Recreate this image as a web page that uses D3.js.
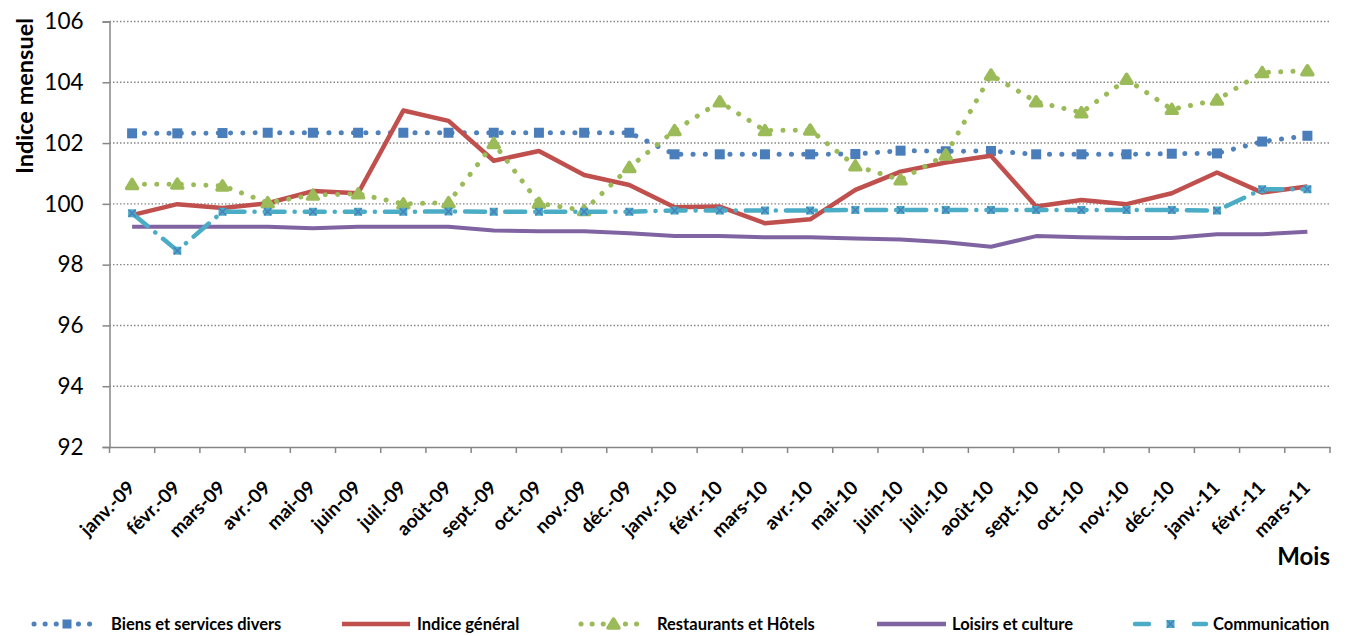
<!DOCTYPE html>
<html><head><meta charset="utf-8">
<script src="https://cdn.jsdelivr.net/npm/d3@7"></script>
<style>
body{margin:0;background:#fff;}
svg{display:block;font-family:Lato,"Open Sans",sans-serif;}
</style></head>
<body>
<svg id="c" width="1347" height="636"></svg>
<script>
const months = ["janv.-09","févr.-09","mars-09","avr.-09","mai-09","juin-09","juil.-09","août-09","sept.-09","oct.-09","nov.-09","déc.-09",
"janv.-10","févr.-10","mars-10","avr.-10","mai-10","juin-10","juil.-10","août-10","sept.-10","oct.-10","nov.-10","déc.-10",
"janv.-11","févr.-11","mars-11"];
const yTicks = [92,94,96,98,100,102,104,106];
const biens = [102.32,102.32,102.33,102.34,102.34,102.34,102.34,102.34,102.34,102.34,102.34,102.34,
101.63,101.63,101.63,101.63,101.64,101.75,101.73,101.74,101.63,101.63,101.63,101.65,101.66,102.05,102.24];
const indice = [99.63,99.99,99.86,100.02,100.42,100.35,103.07,102.73,101.42,101.74,100.95,100.62,
99.89,99.91,99.36,99.49,100.46,101.06,101.36,101.58,99.91,100.13,99.99,100.35,101.03,100.37,100.57];
const resto = [100.64,100.65,100.59,100.04,100.29,100.33,100.0,100.04,101.99,100.02,99.78,101.2,
102.41,103.36,102.41,102.43,101.25,100.79,101.61,104.24,103.36,103.0,104.1,103.11,103.42,104.32,104.38];
const loisirs = [99.25,99.25,99.25,99.25,99.2,99.25,99.25,99.25,99.12,99.1,99.1,99.03,
98.94,98.94,98.9,98.9,98.86,98.83,98.74,98.59,98.94,98.9,98.88,98.88,99.0,99.0,99.08];
const comm = [99.69,98.46,99.74,99.74,99.74,99.74,99.74,99.75,99.74,99.74,99.74,99.74,
99.78,99.78,99.78,99.78,99.8,99.8,99.8,99.8,99.8,99.8,99.8,99.8,99.78,100.48,100.48];

const svg = d3.select("#c");
const pLeft = 109.5, pRight = 1330, pTop = 21.5, pBottom = 447;
const x = d3.scaleBand().domain(months).range([pLeft, pRight]);
const y = d3.scaleLinear().domain([92,106]).range([pBottom, pTop]);
const cx = d => x(d) + x.bandwidth()/2;
const axisCol = "#868686";

// gridlines
svg.append("g").selectAll("line").data(yTicks.filter(t=>t>92)).join("line")
  .attr("x1", pLeft).attr("x2", pRight).attr("y1", d=>y(d)).attr("y2", d=>y(d))
  .attr("stroke", axisCol).attr("stroke-width", 1.4).attr("stroke-dasharray", "1.5,2");

// y axis
const ya = svg.append("g").attr("transform", `translate(${pLeft},0)`)
  .call(d3.axisLeft(y).tickValues(yTicks).tickSize(7).tickPadding(19).tickFormat(d3.format("d")));
ya.select(".domain").attr("stroke", axisCol).attr("stroke-width", 1.5);
ya.selectAll(".tick line").attr("stroke", axisCol).attr("stroke-width", 1.5);
ya.selectAll("text").attr("font-size", 22.5).attr("fill", "#000").attr("font-family", "Lato");

// x axis
const xa = svg.append("g").attr("transform", `translate(0,${pBottom})`)
  .call(d3.axisBottom(x).tickSize(0).tickFormat(""));
xa.select(".domain").attr("stroke", axisCol).attr("stroke-width", 1.5);
const bounds = months.map(m => x(m)).concat([pRight]);
svg.append("g").selectAll("line").data(bounds).join("line")
  .attr("x1", d=>d).attr("x2", d=>d).attr("y1", pBottom).attr("y2", pBottom+6)
  .attr("stroke", axisCol).attr("stroke-width", 1.5);
svg.append("g").selectAll("text").data(months).join("text")
  .attr("transform", d => `translate(${cx(d)+4},${489}) rotate(-45)`)
  .attr("text-anchor", "end").attr("font-size", 19).attr("font-weight", "bold").text(d=>d);

// axis titles
svg.append("text").attr("transform", `translate(33,96) rotate(-90)`).attr("text-anchor","middle")
  .attr("font-size", 23.5).attr("font-weight","bold").text("Indice mensuel");
svg.append("text").attr("x", 1330).attr("y", 565).attr("text-anchor","end")
  .attr("font-size", 24).attr("font-weight","bold").text("Mois");

const line = d3.line().x((d,i)=>cx(months[i])).y(d=>y(d));
const C = {blue:"#4f81bd", red:"#c0504d", green:"#9bbb59", purple:"#8064a2", aqua:"#4bacc6"};

function sq(g, px, py, s, col){ g.append("rect").attr("x",px-s/2).attr("y",py-s/2).attr("width",s).attr("height",s).attr("fill",col); }
function tri(g, px, py, col){
  g.append("path").attr("d", `M${px},${py-5} L${px+5.5},${py+4} L${px-5.5},${py+4} Z`)
   .attr("fill", col).attr("stroke", col).attr("stroke-width", 3.5).attr("stroke-linejoin","round");
}
function xsq(g, px, py){
  sq(g, px, py, 8, C.aqua);
  g.append("path").attr("d", `M${px-3.5},${py-3.5}L${px+3.5},${py+3.5}M${px+3.5},${py-3.5}L${px-3.5},${py+3.5}`)
   .attr("stroke", "#4a7ebb").attr("stroke-width", 1.5);
}

// Biens
const gB = svg.append("g");
gB.append("path").attr("d", line(biens)).attr("fill","none").attr("stroke",C.blue).attr("stroke-width",5)
  .attr("stroke-linecap","round").attr("stroke-dasharray","0.1,12.2");
biens.forEach((v,i)=> sq(gB, cx(months[i]), y(v), 10, "#4a7ebb"));

// Indice
svg.append("path").attr("d", line(indice)).attr("fill","none").attr("stroke",C.red).attr("stroke-width",4.5)
  .attr("stroke-linejoin","round");

// Resto
const gR = svg.append("g");
gR.append("path").attr("d", line(resto)).attr("fill","none").attr("stroke",C.green).attr("stroke-width",5)
  .attr("stroke-linecap","round").attr("stroke-dasharray","0.1,12.2");
resto.forEach((v,i)=> tri(gR, cx(months[i]), y(v), C.green));

// Loisirs
svg.append("path").attr("d", line(loisirs)).attr("fill","none").attr("stroke",C.purple).attr("stroke-width",4)
  .attr("stroke-linejoin","round");

// Comm
const gC = svg.append("g");
gC.append("path").attr("d", line(comm)).attr("fill","none").attr("stroke",C.aqua).attr("stroke-width",4.5)
  .attr("stroke-linecap","round").attr("stroke-dasharray","20,10,0.1,10");
comm.forEach((v,i)=> xsq(gC, cx(months[i]), y(v)));

// Legend
const names = ["Biens et services divers","Indice général","Restaurants et Hôtels","Loisirs et culture","Communication"];
const ly = 624;
const lg = svg.append("g");
const items = [
  {x1:34,x2:100,tx:111,type:"biens"},
  {x1:342,x2:410,tx:417,type:"indice"},
  {x1:581,x2:646,tx:657,type:"resto"},
  {x1:877,x2:946,tx:952,type:"loisirs"},
  {x1:1135,x2:1206,tx:1213,type:"comm"}
];
items.forEach((it,k)=>{
  const mid=(it.x1+it.x2)/2;
  if(it.type==="biens"){
    lg.append("line").attr("x1",it.x1).attr("x2",it.x2).attr("y1",ly).attr("y2",ly).attr("stroke",C.blue).attr("stroke-width",5)
      .attr("stroke-linecap","round").attr("stroke-dasharray","0.1,11");
    sq(lg, mid, ly, 9, "#4a7ebb");
  } else if(it.type==="indice"){
    lg.append("line").attr("x1",it.x1).attr("x2",it.x2).attr("y1",ly).attr("y2",ly).attr("stroke",C.red).attr("stroke-width",4.5);
  } else if(it.type==="resto"){
    lg.append("line").attr("x1",it.x1).attr("x2",it.x2).attr("y1",ly).attr("y2",ly).attr("stroke",C.green).attr("stroke-width",5)
      .attr("stroke-linecap","round").attr("stroke-dasharray","0.1,11");
    tri(lg, mid, ly, C.green);
  } else if(it.type==="loisirs"){
    lg.append("line").attr("x1",it.x1).attr("x2",it.x2).attr("y1",ly).attr("y2",ly).attr("stroke",C.purple).attr("stroke-width",4.5);
  } else {
    lg.append("line").attr("x1",it.x1).attr("x2",it.x1+14).attr("y1",ly).attr("y2",ly).attr("stroke",C.aqua).attr("stroke-width",4.5).attr("stroke-linecap","round");
    lg.append("line").attr("x1",it.x2-12).attr("x2",it.x2).attr("y1",ly).attr("y2",ly).attr("stroke",C.aqua).attr("stroke-width",4.5).attr("stroke-linecap","round");
    xsq(lg, mid, ly);
  }
  lg.append("text").attr("x",it.tx).attr("y",ly+5.5).attr("font-size",16.5).attr("font-weight","bold").text(names[k]);
});
</script>
</body></html>
